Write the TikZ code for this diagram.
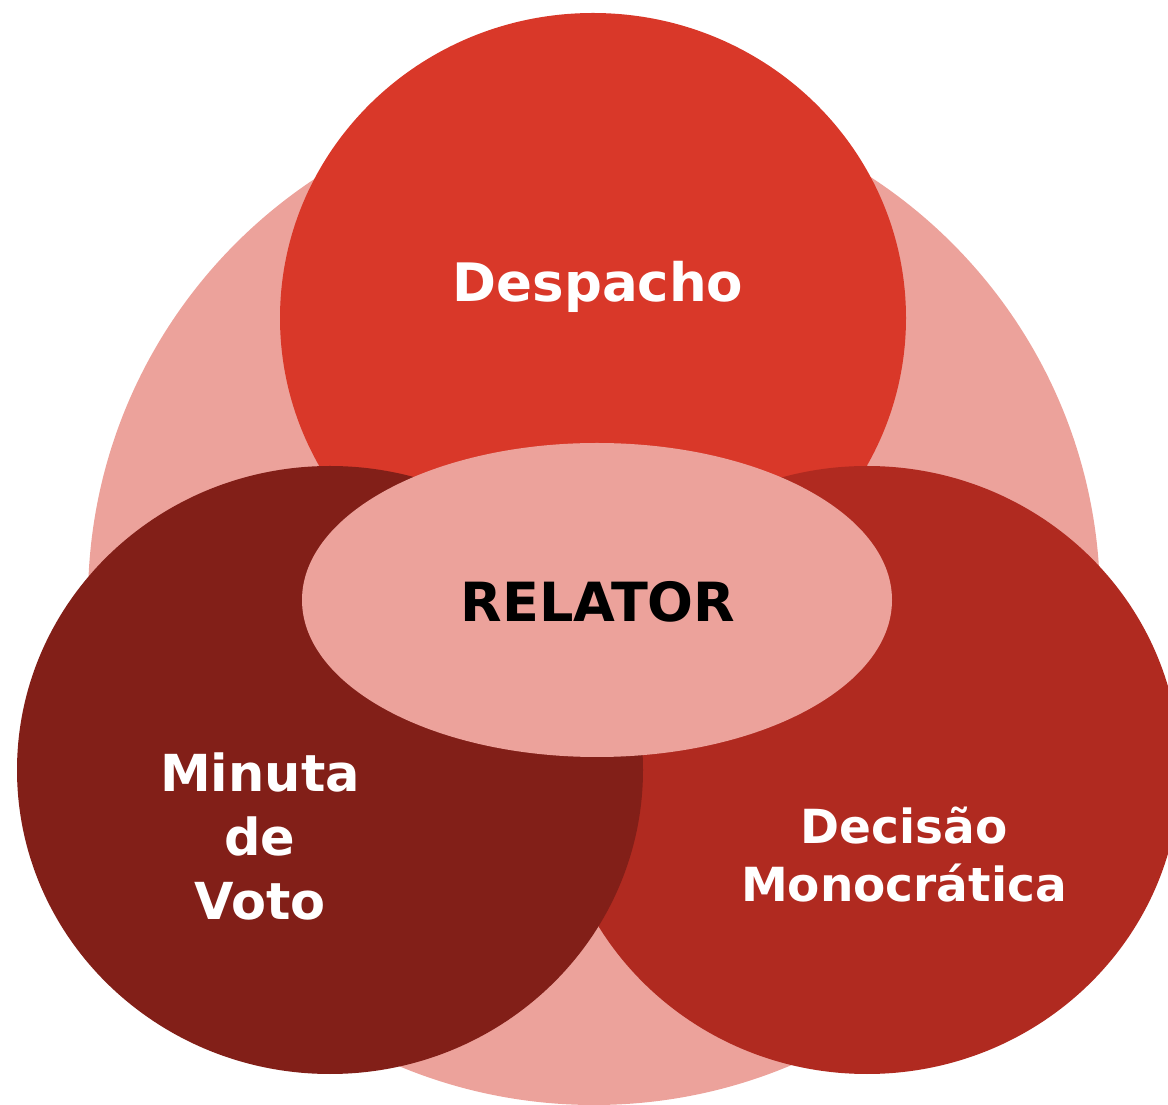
\documentclass[tikz,border=0pt]{standalone}
\usepackage{fontspec}
\setmainfont{DejaVu Sans}
\definecolor{pinkbg}{HTML}{ECA29B}
\definecolor{despacho}{HTML}{D93829}
\definecolor{minuta}{HTML}{821F18}
\definecolor{decisao}{HTML}{B02A20}
\tikzset{
  lbl/.style={font=\bfseries, text=white, align=center, inner sep=0pt},
}
\begin{document}
\begin{tikzpicture}[x=1pt,y=1pt]
\useasboundingbox (0,0) rectangle (1168,1104);
\clip (0,0) rectangle (1168,1104);
% background big circle
\fill[pinkbg] (594,504) ellipse [x radius=506, y radius=505];
% Despacho
\fill[despacho] (593,786) ellipse [x radius=313, y radius=305];
% Decisao
\fill[decisao] (867,334) ellipse [x radius=313, y radius=304];
% Minuta
\fill[minuta] (330,334) ellipse [x radius=313, y radius=304];
% Relator
\fill[pinkbg] (597,504) ellipse [x radius=295, y radius=157];
\node[lbl, font=\bfseries\fontsize{53}{62}\selectfont] (despacho) at (598,817) {Despacho};
\node[lbl, text=black, font=\bfseries\fontsize{54}{62}\selectfont] (relator) at (598,502) {RELATOR};
\node[lbl, font=\bfseries\fontsize{51}{64}\selectfont] (minuta) at (260,268) {Minuta\\de\\Voto};
\node[lbl, font=\bfseries\fontsize{47}{58}\selectfont] (decisao) at (904,249) {Decisão\\Monocrática};
\end{tikzpicture}
\end{document}
